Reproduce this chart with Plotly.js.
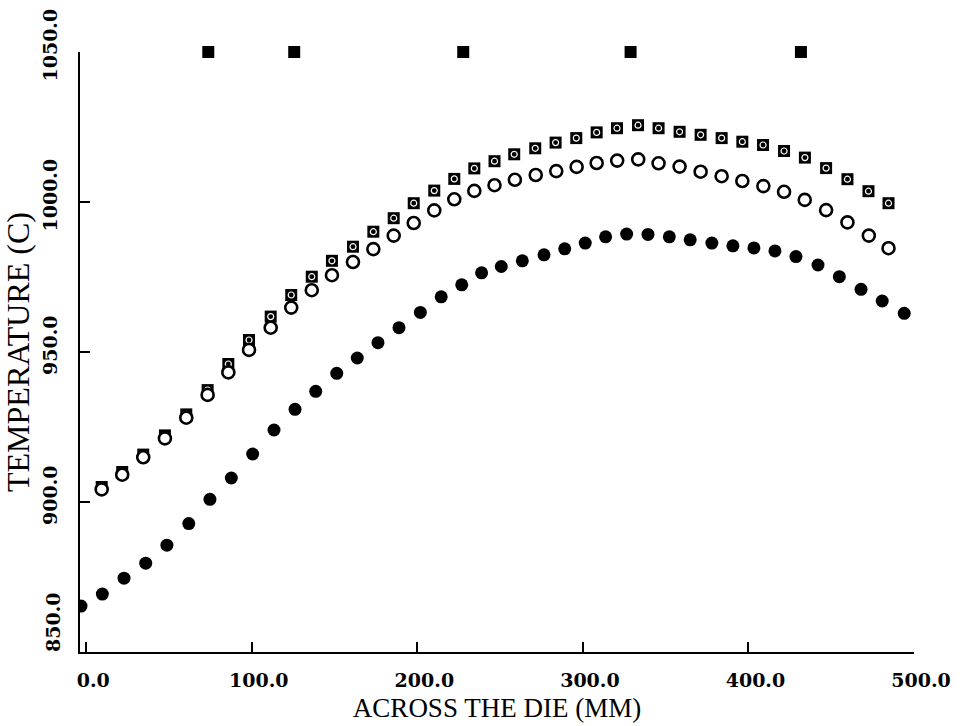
<!DOCTYPE html>
<html>
<head>
<meta charset="utf-8">
<script src="https://cdn.plot.ly/plotly-3.0.1.min.js"></script>
<style>
html,body{margin:0;padding:0;background:#fff;}
#chart{width:961px;height:726px;}
</style>
</head>
<body>
<div id="chart"></div>
<script>
// Filled circles (lowest curve)
const xFilled = [-3.2, 9.7, 22.8, 35.9, 48.7, 61.9, 74.7, 87.6, 100.5, 113.4, 126.1, 138.6, 151.3, 163.7, 176.2, 188.9, 201.8, 214.4, 226.8, 238.8, 250.7, 263.4, 276.5, 289.0, 301.4, 313.7, 326.4, 339.3, 352.2, 364.8, 377.9, 390.6, 403.3, 416.0, 428.7, 442.0, 454.9, 468.0, 480.8, 494.1];
const yFilled = [865.3, 869.3, 874.6, 879.6, 885.6, 892.8, 900.9, 908.0, 916.0, 924.0, 930.9, 936.9, 942.9, 948.0, 953.1, 958.1, 963.2, 968.4, 972.4, 976.4, 978.5, 980.4, 982.4, 984.4, 986.3, 988.4, 989.3, 989.2, 988.4, 987.4, 986.3, 985.4, 984.7, 983.7, 981.8, 979.0, 975.1, 970.9, 967.0, 962.9];

// Open circles (middle curve)
const xOpen = [9.3, 21.7, 34.4, 47.5, 60.4, 73.3, 85.8, 98.3, 111.4, 123.8, 136.2, 148.4, 161.1, 173.4, 185.7, 197.8, 210.2, 222.3, 234.4, 246.6, 258.9, 271.5, 283.9, 296.2, 308.3, 320.7, 333.4, 345.7, 358.4, 371.1, 383.8, 396.3, 409.0, 421.5, 434.0, 446.9, 459.8, 472.7, 484.6];
const yOpen = [904.2, 909.1, 914.9, 921.2, 928.1, 935.7, 943.2, 950.7, 958.1, 964.8, 970.6, 975.6, 980.0, 984.3, 988.8, 993.0, 997.2, 1000.9, 1003.7, 1005.6, 1007.4, 1009.0, 1010.3, 1011.7, 1013.0, 1013.8, 1014.2, 1012.9, 1011.8, 1010.1, 1008.6, 1007.0, 1005.3, 1003.4, 1000.7, 997.3, 993.2, 988.8, 984.6];

// Patterned squares (upper curve)
const xSquare = [9.3, 21.7, 34.4, 47.5, 60.4, 73.3, 85.8, 98.3, 111.4, 123.8, 136.2, 148.4, 161.1, 173.4, 185.7, 197.8, 210.2, 222.3, 234.4, 246.6, 258.5, 271.2, 283.5, 296.0, 308.3, 320.6, 333.3, 345.7, 358.4, 371.1, 383.8, 396.3, 408.8, 421.5, 434.1, 446.9, 459.8, 472.5, 484.6];
const ySquare = [905.0, 910.0, 915.8, 922.2, 929.2, 937.3, 946.0, 954.0, 961.8, 969.0, 975.1, 980.4, 985.1, 990.1, 994.6, 999.6, 1003.8, 1007.7, 1011.2, 1013.6, 1015.9, 1017.9, 1019.8, 1021.3, 1023.2, 1024.6, 1025.6, 1024.6, 1023.4, 1022.4, 1021.3, 1020.1, 1019.0, 1017.0, 1014.8, 1011.3, 1007.6, 1003.6, 999.6];

// Solid squares along the top
const xTop = [73.7, 125.6, 227.7, 328.8, 431.7];
const yTop = [1050, 1050, 1050, 1050, 1050];

// Tick labels
const xTickVals = [0, 100, 200, 300, 400, 500];
const xTickText = ['0.0', '100.0', '200.0', '300.0', '400.0', '500.0'];
const yTickVals = [850, 900, 950, 1000, 1050];
const yTickText = ['850.0', '900.0', '950.0', '1000.0', '1050.0'];

const xTitle = 'ACROSS THE DIE (MM)';
const yTitle = 'TEMPERATURE (C)';

const traces = [
  {x: xSquare, y: ySquare, mode: 'markers', type: 'scatter',
   marker: {symbol: 'square', size: 12, color: '#000', line: {width: 0}}},
  {x: xSquare, y: ySquare, mode: 'markers', type: 'scatter',
   marker: {symbol: 'circle-open', size: 6, color: '#fff', line: {width: 1.2}}},
  {x: xOpen, y: yOpen, mode: 'markers', type: 'scatter',
   marker: {symbol: 'circle', size: 12, color: '#fff', line: {color: '#000', width: 2.6}}},
  {x: xFilled, y: yFilled, mode: 'markers', type: 'scatter',
   marker: {symbol: 'circle', size: 13, color: '#000', line: {width: 0}}},
  {x: xTop, y: yTop, mode: 'markers', type: 'scatter', cliponaxis: false,
   marker: {symbol: 'square', size: 12, color: '#000', line: {width: 0}}}
];

const tickFont = {family: 'DejaVu Serif', size: 19, color: '#000', weight: 'bold'};

// The lowest y label sits raised above its tick (clear of the x labels), so it is drawn as an annotation
const yAxisText = yTickText.map((t, i) => (i === 0 ? '' : t));

const layout = {
  width: 961, height: 726,
  margin: {l: 80, r: 47, t: 52, b: 74},
  paper_bgcolor: '#fff', plot_bgcolor: '#fff',
  showlegend: false,
  hovermode: false,
  xaxis: {
    range: [-3.8, 500],
    tickvals: xTickVals, ticktext: xTickText,
    ticks: 'inside', ticklen: 10, tickwidth: 2, tickcolor: '#000',
    showline: true, linecolor: '#000', linewidth: 2,
    showgrid: false, zeroline: false,
    tickfont: tickFont,
    ticklabelshift: 7,
    ticklabelstandoff: 10,
    title: {text: xTitle, font: {family: 'Liberation Serif', size: 27, color: '#000'}, standoff: 8}
  },
  yaxis: {
    range: [850, 1050],
    tickvals: yTickVals, ticktext: yAxisText,
    tickangle: -90,
    ticks: 'inside', ticklen: 10, tickwidth: 2, tickcolor: '#000',
    showline: true, linecolor: '#000', linewidth: 2,
    showgrid: false, zeroline: false,
    tickfont: tickFont,
    ticklabelshift: -4,
    ticklabelstandoff: 13,
    title: {text: yTitle, font: {family: 'Liberation Serif', size: 32, color: '#000'}, standoff: 1}
  },
  annotations: [{
    text: yTickText[0], xref: 'paper', x: 0, xanchor: 'right', xshift: -14,
    yref: 'y', y: yTickVals[0], yanchor: 'bottom', yshift: -2,
    textangle: -90, showarrow: false, font: tickFont
  }]
};

Plotly.newPlot('chart', traces, layout, {displayModeBar: false, staticPlot: true});
</script>
</body>
</html>
